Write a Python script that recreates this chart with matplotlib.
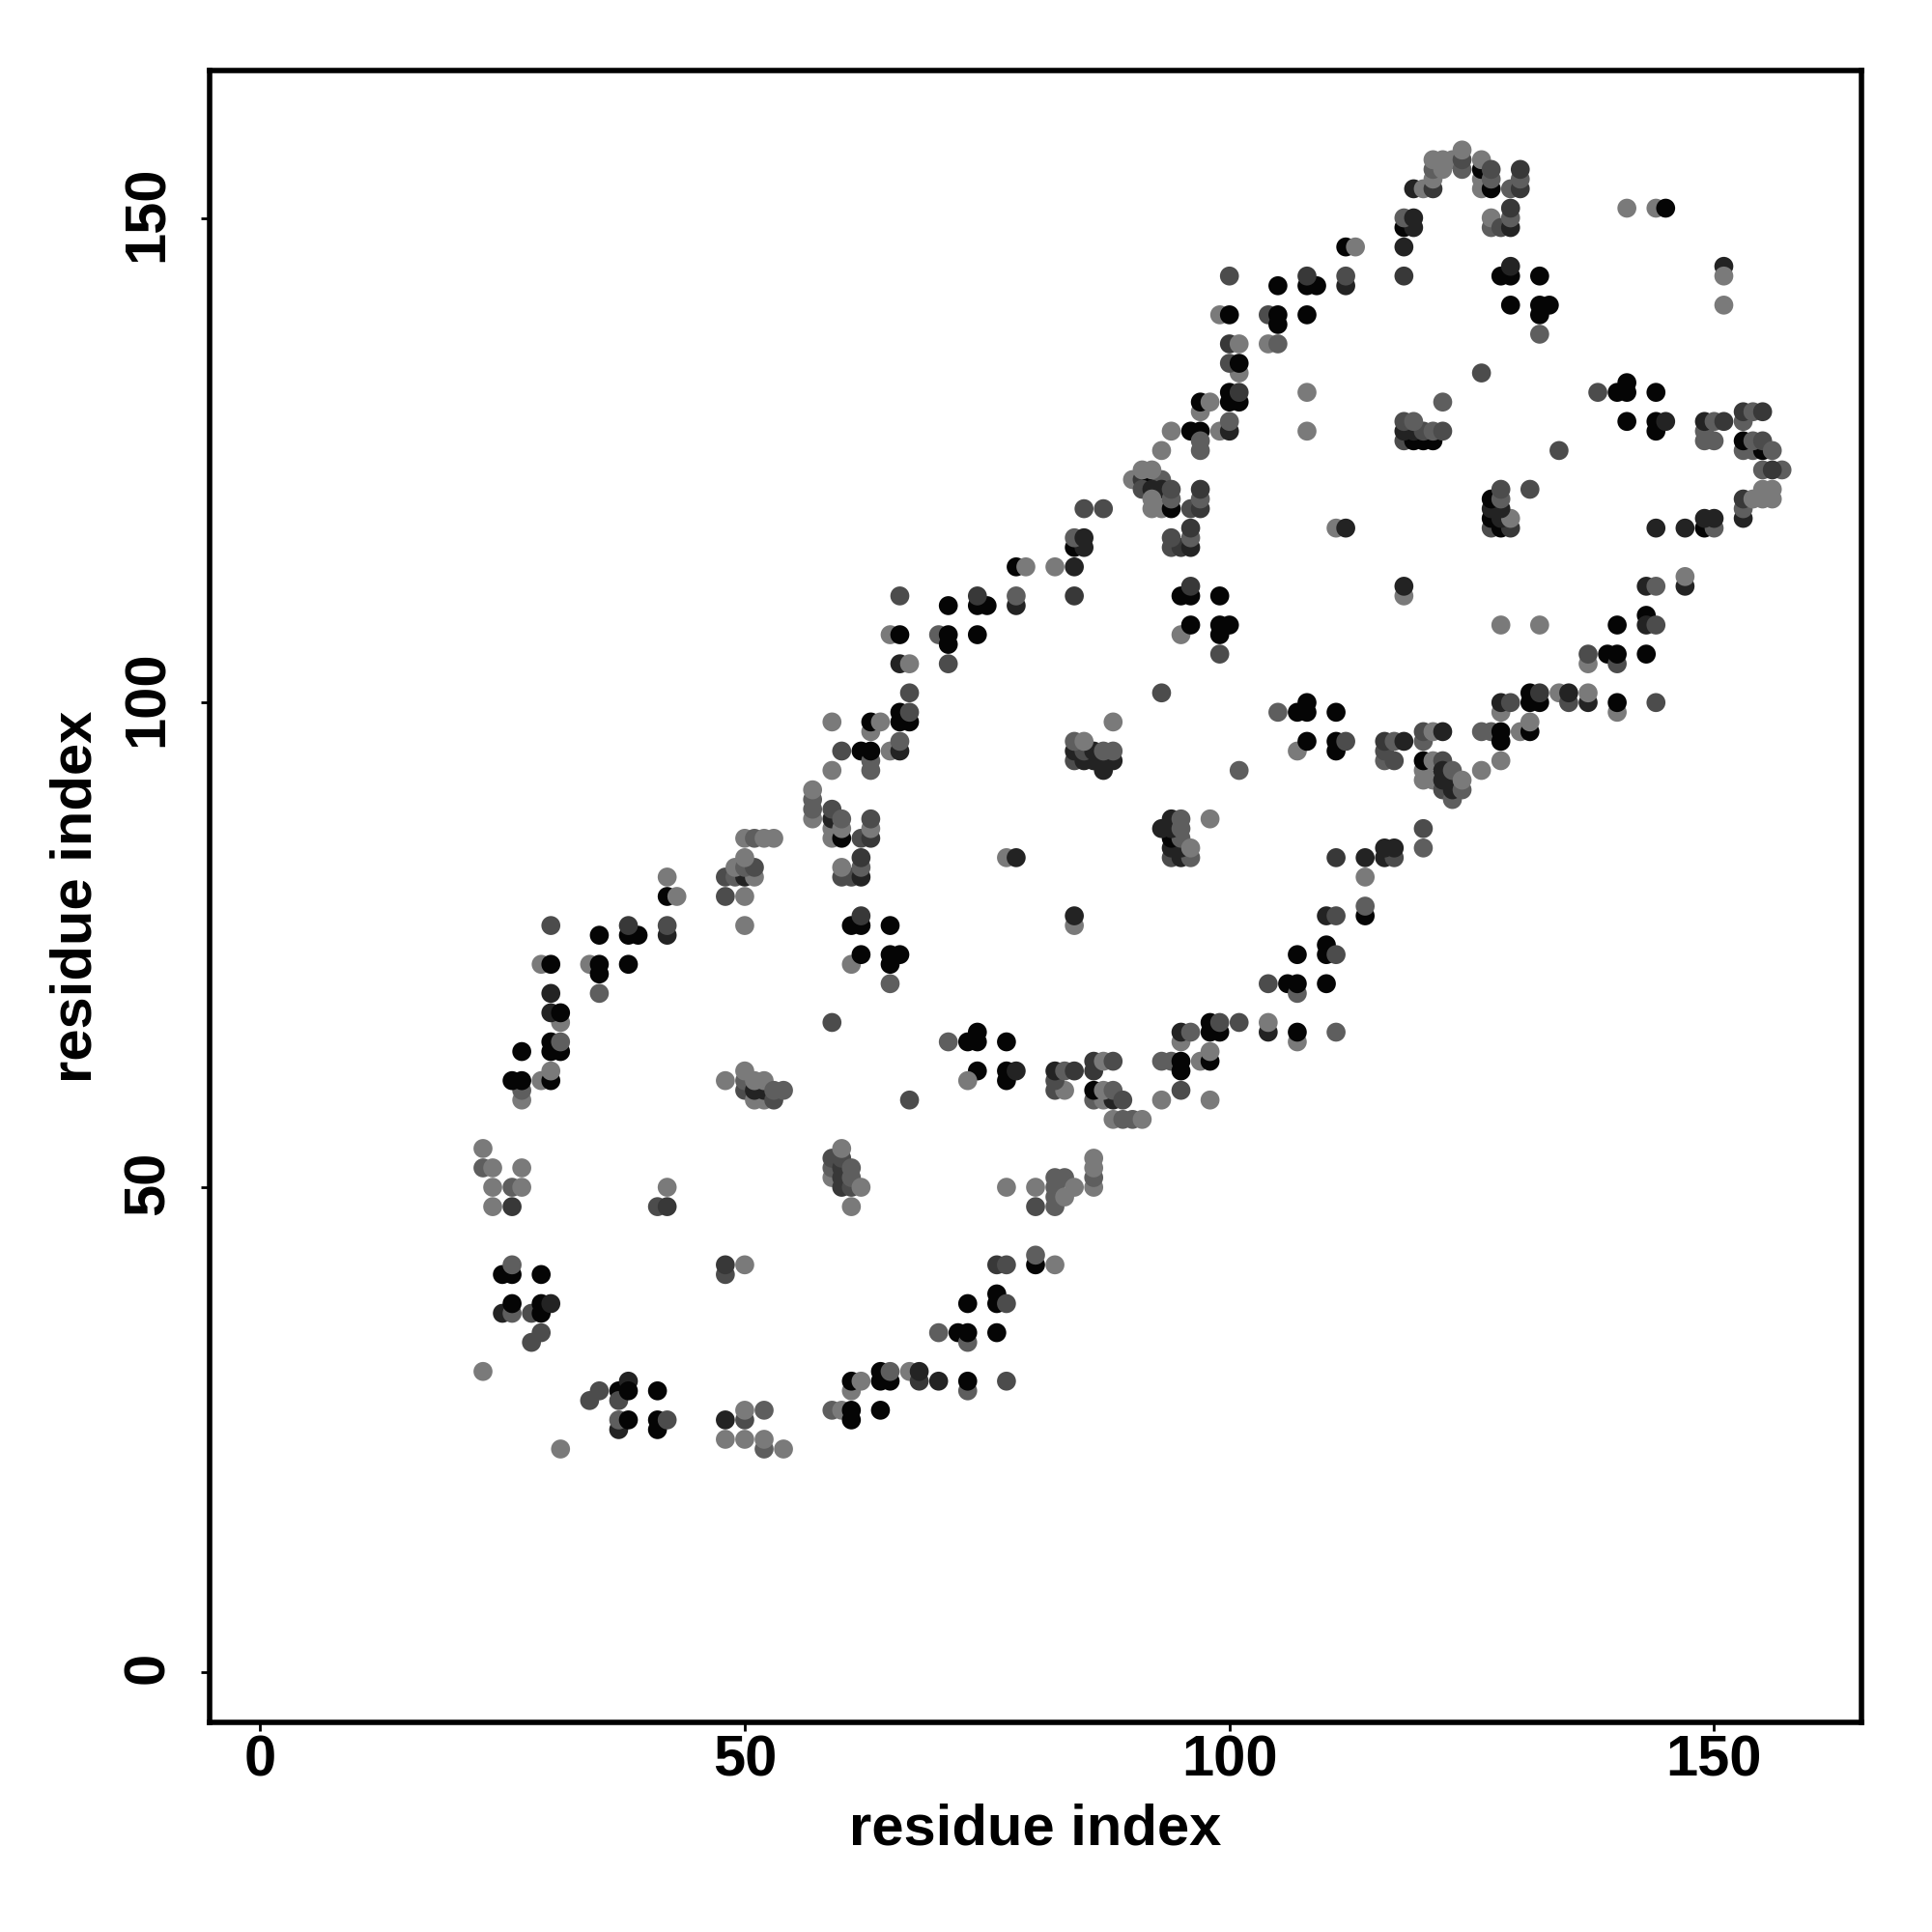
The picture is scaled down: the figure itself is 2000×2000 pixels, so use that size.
import matplotlib
matplotlib.use('Agg')
import matplotlib.pyplot as plt
from matplotlib.transforms import ScaledTranslation
import numpy as np

plt.rcParams['font.family'] = ['Liberation Sans', 'DejaVu Sans']

# contact strength, as a grey level
K, D, E, F, M, L = 0.02, 0.14, 0.22, 0.30, 0.37, 0.48

# (residue i, residue j, grey)
low_left = [(23, 31, L), (34, 28, F), (35, 29, F), (37, 29, K), (37, 28, F), (38, 30, D), (38, 29, K), (41, 29, K),
            (37, 25, D), (37, 26, M), (38, 26, K), (41, 25, K), (41, 26, K), (42, 26, F), (31, 23, L),
            (50, 26, F), (50, 27, L), (52, 27, M), (48, 26, D), (48, 24, L), (50, 24, L), (52, 23, M), (52, 24, L), (54, 23, L),
            (59, 27, M), (60, 27, L), (61, 26, K), (61, 27, K), (61, 29, L), (61, 30, K), (62, 30, L), (64, 27, K),
            (64, 30, K), (65, 30, K), (64, 31, K), (65, 31, M), (67, 31, L), (68, 30, E), (68, 31, D), (70, 30, D),
            (70, 35, M), (72, 35, K), (73, 34, M), (73, 35, K), (76, 35, K), (73, 29, M), (73, 30, K), (77, 30, F),
            (73, 38, K), (76, 38, K), (76, 39, K), (77, 38, F), (76, 42, E), (77, 42, F), (80, 42, K), (80, 43, M), (82, 42, L)]

left_arm = [(26, 41, K), (25, 41, K), (26, 42, M), (29, 41, K), (25, 37, D), (26, 37, M), (26, 38, K), (28, 37, F),
            (29, 37, K), (29, 38, K), (30, 38, D), (28, 34, F), (29, 35, F), (48, 41, F), (48, 42, E), (50, 42, L),
            (23, 54, L), (23, 52, M), (24, 52, L), (27, 52, L), (24, 50, L), (26, 50, M), (27, 50, L), (24, 48, L), (26, 48, E),
            (41, 48, F), (42, 48, E), (42, 50, L),
            (27, 59, L), (27, 60, M), (26, 61, K), (27, 61, K), (29, 61, L), (30, 61, K), (30, 62, L),
            (27, 64, K), (30, 64, K), (31, 64, K), (30, 65, K), (31, 65, M), (31, 67, L), (30, 68, D), (31, 68, K), (30, 70, D),
            (29, 73, L), (30, 73, K), (30, 77, F), (35, 70, M), (34, 73, L), (35, 72, K), (35, 73, K), (38, 73, K),
            (35, 76, K), (38, 76, K), (39, 76, K), (38, 77, E), (42, 76, D), (42, 77, F), (42, 80, K), (43, 80, L), (42, 82, L)]

cluster_50 = [(48, 61, L), (50, 60, F), (50, 61, M), (50, 62, L), (51, 59, L), (52, 59, L), (51, 60, D), (52, 60, D),
              (51, 61, L), (52, 61, L), (53, 59, F), (53, 60, M), (54, 60, M), (67, 59, F), (59, 67, F),
              (59, 51, L), (59, 52, M), (59, 53, F), (60, 50, E), (60, 51, E), (60, 52, E), (60, 53, F), (60, 54, L),
              (61, 50, F), (61, 51, M), (61, 52, M), (62, 50, L), (61, 48, L)]

upper_50 = [(48, 82, F), (49, 82, M), (50, 82, D), (51, 82, L), (49, 83, L), (50, 83, M), (51, 83, F), (50, 84, L),
            (48, 80, F), (50, 80, L), (50, 77, L), (50, 86, L), (51, 86, M), (52, 86, L), (53, 86, L),
            (61, 77, K), (62, 77, K), (62, 78, E), (65, 77, K), (61, 73, L), (62, 74, K), (65, 73, K), (65, 74, K), (66, 74, K), (65, 71, M),
            (60, 82, F), (61, 82, F), (62, 82, D), (60, 83, L), (62, 83, M), (62, 84, E),
            (57, 88, L), (57, 89, M), (57, 90, M), (57, 91, L), (59, 86, L), (59, 87, L), (59, 88, D), (59, 89, F),
            (60, 86, K), (60, 87, L), (60, 88, M), (62, 86, F), (63, 86, E), (63, 87, L), (63, 88, F),
            (59, 93, L), (60, 95, F), (62, 95, K), (63, 93, M), (63, 94, M), (63, 95, K), (65, 95, L), (66, 95, D), (66, 96, M),
            (59, 98, L), (63, 97, L), (63, 98, K), (64, 98, L), (66, 98, K), (67, 98, K), (66, 99, K), (67, 99, F), (67, 101, F),
            (66, 104, D), (67, 104, L), (71, 104, F), (65, 107, L), (66, 107, K), (70, 107, M), (71, 106, K), (71, 107, K), (74, 107, K),
            (66, 111, F), (71, 110, K), (74, 110, K), (75, 110, K), (74, 111, E), (78, 110, D), (78, 111, M),
            (78, 114, K), (79, 114, L), (82, 114, L), (84, 114, D), (84, 111, E),
            (84, 116, K), (85, 116, D), (84, 117, M), (85, 117, D), (85, 120, F), (87, 120, F)]

middle_low = [(71, 65, M), (73, 65, K), (74, 65, K), (74, 66, K), (77, 65, K), (74, 62, K), (73, 61, L), (77, 61, K), (77, 62, K), (78, 62, D),
              (82, 60, F), (83, 60, L), (82, 61, F), (82, 62, D), (83, 62, M), (84, 62, E), (86, 62, E), (86, 63, E), (87, 63, L), (88, 63, F),
              (86, 59, M), (87, 59, L), (88, 59, D), (86, 60, K), (87, 60, L), (88, 60, M), (89, 59, F),
              (88, 57, L), (89, 57, M), (90, 57, M), (91, 57, L),
              (93, 63, M), (94, 63, M), (95, 62, K), (95, 63, K), (95, 60, F), (93, 59, L), (98, 59, L), (97, 63, L), (98, 63, K), (98, 64, L),
              (95, 65, L), (95, 66, D), (96, 66, M), (98, 66, K), (99, 66, K), (98, 67, K), (99, 67, F), (101, 67, F),
              (104, 66, D), (104, 67, L), (107, 65, L), (107, 66, K), (111, 66, M),
              (104, 71, F), (106, 71, K), (107, 70, M), (107, 71, K), (110, 71, K),
              (77, 50, L), (80, 50, L), (80, 48, F), (82, 48, M), (82, 49, M), (82, 50, M), (82, 51, M), (83, 49, L), (83, 51, M), (84, 50, L),
              (86, 50, L), (86, 51, M), (86, 52, L), (86, 53, L)]

middle = [(84, 94, F), (85, 94, D), (86, 94, D), (87, 94, D), (88, 94, D), (87, 93, D), (84, 95, D), (85, 95, F), (86, 95, D),
          (84, 96, M), (85, 96, L), (87, 95, M), (88, 95, M), (88, 98, L), (93, 101, F),
          (94, 84, F), (95, 84, D), (96, 84, M), (94, 85, D), (95, 85, D), (94, 86, K), (95, 86, M), (96, 85, L),
          (93, 87, D), (94, 87, D), (94, 88, D), (95, 87, M), (95, 88, M), (98, 88, L),
          (77, 84, L), (78, 84, D), (84, 77, L), (84, 78, D), (101, 93, M)]

diag_mid = [(95, 107, L), (95, 111, K), (96, 111, K), (96, 112, E), (96, 108, K), (99, 105, F), (99, 107, K), (99, 108, K), (100, 108, K), (99, 111, K),
            (94, 116, F), (95, 116, E), (96, 116, D), (94, 117, F), (96, 117, M), (96, 118, E),
            (90, 123, L), (91, 123, E), (92, 123, K), (93, 123, M), (91, 124, L), (92, 124, L),
            (91, 122, F), (92, 122, D), (93, 122, D), (92, 120, L), (92, 121, L), (93, 120, L), (94, 120, K), (94, 121, M), (94, 122, F),
            (96, 120, F), (97, 120, E), (97, 121, M), (97, 122, E), (93, 126, L), (94, 128, L),
            (96, 128, K), (97, 128, K), (97, 126, M), (97, 127, M), (99, 128, L), (100, 128, D), (100, 129, M),
            (97, 130, L), (97, 131, K), (98, 131, L), (100, 131, K), (101, 131, K), (100, 132, K), (101, 132, E),
            (101, 134, L), (100, 135, F), (101, 135, K), (100, 137, E), (101, 137, L), (104, 137, L), (105, 137, M),
            (99, 140, L), (100, 140, K), (104, 140, F), (105, 139, K), (105, 140, K), (108, 140, K), (100, 144, F),
            (105, 143, K), (108, 143, K), (109, 143, K), (108, 144, E), (112, 143, D), (112, 144, F), (112, 147, K), (113, 147, L),
            (108, 128, L), (108, 132, L), (111, 118, L), (112, 118, D), (118, 111, L), (118, 112, D)]

top_arc = [(118, 144, E), (118, 147, D), (118, 149, K), (119, 149, D), (118, 150, M), (119, 150, D),
           (119, 153, D), (120, 153, L), (121, 153, E), (121, 154, L), (121, 155, M), (122, 155, L), (121, 156, L), (122, 156, L), (123, 156, L),
           (124, 155, M), (124, 156, F), (124, 157, L), (126, 153, L), (126, 154, L), (126, 155, K), (126, 156, L),
           (127, 153, K), (127, 154, M), (127, 155, F), (129, 153, M), (130, 153, E), (130, 154, M), (130, 155, E),
           (127, 149, M), (127, 150, L), (128, 149, F), (129, 149, D), (129, 150, M), (129, 151, E),
           (128, 144, K), (129, 144, K), (129, 145, D), (132, 144, K), (129, 141, K), (132, 140, K), (132, 141, K), (133, 141, K), (132, 138, M),
           (141, 151, L), (144, 151, L), (145, 151, K), (151, 145, D), (151, 144, L), (151, 141, L)]

right_mid = [(118, 127, F), (119, 127, K), (120, 127, K), (121, 127, K), (118, 128, D), (119, 128, D), (120, 128, F),
             (118, 129, F), (119, 129, M), (121, 128, M), (122, 128, F), (122, 131, M), (126, 134, F),
             (127, 118, F), (128, 118, K), (129, 118, E), (127, 119, K), (128, 119, D), (129, 119, L),
             (127, 120, D), (128, 120, D), (127, 121, K), (128, 121, M), (128, 122, F), (131, 122, F), (134, 126, F),
             (138, 132, F), (140, 132, K), (141, 132, K), (141, 133, K), (144, 132, K), (141, 129, K),
             (144, 128, K), (144, 129, K), (145, 129, D), (149, 127, M), (149, 128, M), (150, 127, M), (149, 129, D), (150, 129, M), (151, 129, E),
             (153, 129, M), (153, 130, E), (154, 130, M), (155, 130, E),
             (153, 126, M), (154, 126, M), (155, 126, K), (153, 127, K), (154, 127, M), (155, 127, F), (156, 126, M),
             (155, 124, M), (157, 124, M), (156, 124, E),
             (153, 119, D), (153, 120, M), (153, 121, E), (154, 121, L), (155, 121, L), (156, 121, L), (155, 122, L), (156, 122, L),
             (144, 118, D), (147, 118, D), (149, 118, K), (150, 118, M), (149, 119, D), (150, 119, D),
             (147, 112, D), (147, 113, L), (143, 112, D), (144, 112, M), (143, 109, K), (143, 108, D), (144, 108, F), (140, 108, K),
             (128, 108, L), (132, 108, L)]

lower_right = [(105, 99, M), (107, 99, K), (108, 99, K), (108, 100, K), (111, 99, K), (107, 95, L), (108, 96, K), (111, 95, K), (111, 96, K), (112, 96, F),
               (116, 94, M), (116, 95, F), (117, 94, F), (116, 96, E), (117, 96, M), (118, 96, D),
               (120, 96, M), (120, 97, F), (121, 97, L), (122, 97, D),
               (126, 97, M), (127, 97, M), (128, 96, K), (128, 97, K), (128, 94, L), (126, 93, L), (130, 97, L), (131, 97, K), (131, 98, L),
               (120, 92, L), (120, 93, L), (120, 94, K), (121, 92, L), (121, 94, L), (122, 94, F), (122, 91, F), (122, 92, D), (122, 93, D),
               (123, 90, M), (123, 91, D), (123, 92, D), (123, 93, M), (124, 91, M), (124, 92, L),
               (128, 99, L), (128, 100, D), (129, 100, F), (131, 100, K), (132, 100, K), (131, 101, K), (132, 101, E),
               (134, 101, L), (135, 100, F), (135, 101, D), (137, 100, D), (137, 101, L), (140, 99, L), (140, 100, K), (144, 100, F),
               (137, 104, L), (137, 105, F), (139, 105, K), (140, 104, F), (140, 105, K), (143, 105, K),
               (120, 85, M), (120, 87, F), (111, 84, E), (114, 84, D), (116, 84, D), (117, 84, F), (116, 85, D), (117, 85, D),
               (114, 82, L), (110, 78, D), (111, 78, F), (114, 78, K), (114, 79, M),
               (107, 74, K), (110, 74, K), (110, 75, K), (111, 74, F)]

contacts = (low_left + left_arm + cluster_50 + upper_50 + middle_low + middle + diag_mid + top_arc + right_mid + lower_right)
res_i = np.array([c[0] for c in contacts])
res_j = np.array([c[1] for c in contacts])
grey = np.array([c[2] for c in contacts])

tick_values = [0, 50, 100, 150]

fig = plt.figure(figsize=(10, 10), dpi=200)
ax = fig.add_axes([217 / 2000, 1 - 1783 / 2000, 1710 / 2000, 1710 / 2000])

ax.scatter(res_i, res_j, c=grey, cmap='gray', vmin=0, vmax=1, s=50, linewidths=0, zorder=3)

ax.set_xlim(-5.2, 165.2)
ax.set_ylim(-5.2, 165.2)
ax.set_xticks(tick_values)
ax.set_yticks(tick_values)
ax.tick_params(length=3.4, width=1.0, labelsize=21.5)
ax.tick_params(axis='x', pad=1)
ax.tick_params(axis='y', pad=9.5)
# rotated labels sit a little low otherwise
nudge = ScaledTranslation(0, 4.5 / 200, fig.dpi_scale_trans)
for lab in ax.get_xticklabels():
    lab.set_fontweight('bold')
for lab in ax.get_yticklabels():
    lab.set_fontweight('bold')
    lab.set_rotation(90)
    lab.set_va('center')
    lab.set_transform(lab.get_transform() + nudge)
for spine in ax.spines.values():
    spine.set_linewidth(2.0)

ax.set_xlabel('residue index', fontsize=21.5, fontweight='bold', va='center')
ax.set_ylabel('residue index', fontsize=21.5, fontweight='bold', va='center')
ax.xaxis.set_label_coords(0.5, -0.065)
ax.yaxis.set_label_coords(-0.0807, 0.5)

fig.savefig('out.png', dpi=200, facecolor='white')
